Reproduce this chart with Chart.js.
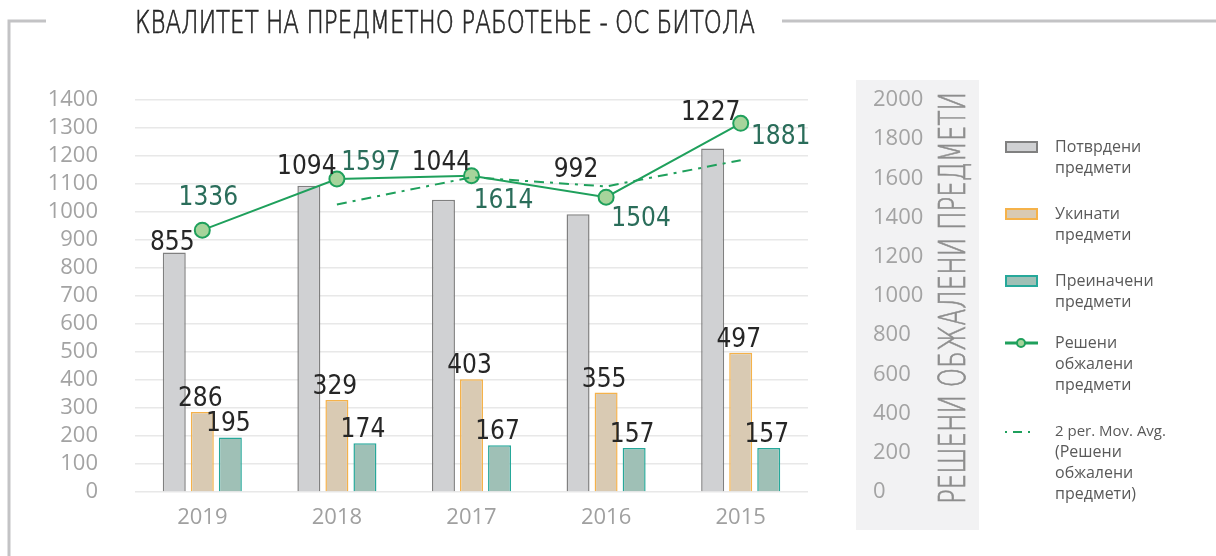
<!DOCTYPE html>
<html>
<head>
<meta charset="utf-8">
<script src="https://cdn.jsdelivr.net/npm/chart.js@4.4.1/dist/chart.umd.min.js"></script>
<style>
  html, body { margin: 0; padding: 0; background: #fff; }
  #wrap { width: 1216px; height: 556px; }
</style>
</head>
<body>
<div id="wrap"><canvas id="qualityChart" width="1216" height="556"></canvas></div>
<script>
// податоци од графиконот
const years = ['2019', '2018', '2017', '2016', '2015'];
const confirmed = [855, 1094, 1044, 992, 1227];
const abolished = [286, 329, 403, 355, 497];
const modified = [195, 174, 167, 157, 157];
const resolvedAppeals = [1336, 1597, 1614, 1504, 1881];
const movingAvg = [null, 1467, 1606, 1559, 1693];

const leftTicks = { min: 0, max: 1400, step: 100 };
const rightTicks = { min: 0, max: 2000, step: 200 };

const titleText = 'КВАЛИТЕТ НА ПРЕДМЕТНО РАБОТЕЊЕ - ОС БИТОЛА';
const rightAxisTitle = 'РЕШЕНИ ОБЖАЛЕНИ ПРЕДМЕТИ';

const narrowFont = '"Liberation Sans Narrow", "DejaVu Sans Condensed", sans-serif';
const GREEN = '#1fa05c';

// draw text squeezed/stretched to a given width (with a thin stroke to add weight)
function fitText(ctx, text, x, y, width, stroke) {
    const w = ctx.measureText(text).width;
    ctx.save();
    ctx.translate(x, y);
    ctx.scale(width / w, 1);
    ctx.fillText(text, 0, 0);
    if (stroke) {
        ctx.strokeStyle = ctx.fillStyle;
        ctx.lineWidth = stroke;
        ctx.strokeText(text, 0, 0);
    }
    ctx.restore();
}

// frame, title and grey panel behind the right axis
const backdrop = {
    id: 'backdrop',
    beforeDraw(chart) {
        const ctx = chart.ctx;
        ctx.save();
        ctx.fillStyle = '#f2f2f3';
        ctx.fillRect(856, 80, 123, 450);

        ctx.strokeStyle = '#c3c3c5';
        ctx.lineWidth = 3;
        ctx.beginPath();
        ctx.moveTo(9, 556);
        ctx.lineTo(9, 21);
        ctx.lineTo(46, 21);
        ctx.moveTo(782, 21);
        ctx.lineTo(1216, 21);
        ctx.stroke();

        ctx.fillStyle = '#262626';
        ctx.font = '200 32px "DejaVu Sans", sans-serif';
        ctx.textBaseline = 'alphabetic';
        ctx.textAlign = 'left';
        fitText(ctx, titleText, 135, 33, 620, 0.7);

        ctx.fillStyle = '#8e8e8e';
        ctx.font = '200 37px "DejaVu Sans", sans-serif';
        ctx.save();
        ctx.translate(965, 504);
        ctx.rotate(-Math.PI / 2);
        fitText(ctx, rightAxisTitle, 0, 0, 412, 0.7);
        ctx.restore();
        ctx.restore();
    }
};

// value labels above bars and next to the line points
const grayLift = [3, 12, 30, 37, 28];
const lineLabelOffsets = [[6, -25], [34, -9], [32, 32], [35, 29], [40, 21]];

const valueLabels = {
    id: 'valueLabels',
    afterDatasetsDraw(chart) {
        const ctx = chart.ctx;
        ctx.save();
        ctx.font = '26px ' + narrowFont;
        ctx.textAlign = 'center';
        ctx.textBaseline = 'alphabetic';
        ctx.fillStyle = '#262626';
        [0, 1, 2].forEach(i => {
            const values = chart.data.datasets[i].data;
            chart.getDatasetMeta(i).data.forEach((bar, j) => {
                const lift = i === 0 ? grayLift[j] : 6;
                ctx.fillText(values[j], bar.x - 2, bar.y - lift);
            });
        });
        ctx.fillStyle = '#2a6d5a';
        const lineValues = chart.data.datasets[3].data;
        chart.getDatasetMeta(3).data.forEach((pt, j) => {
            const [dx, dy] = lineLabelOffsets[j];
            ctx.fillText(lineValues[j], pt.x + dx, pt.y + dy);
        });
        ctx.restore();
    }
};

// legend on the right
const sideLegend = {
    id: 'sideLegend',
    afterDraw(chart) {
        const ctx = chart.ctx;
        const ds = chart.data.datasets;
        const items = [
            { y: 147, kind: 'box', ds: ds[0], lines: ['Потврдени', 'предмети'] },
            { y: 214, kind: 'box', ds: ds[1], lines: ['Укинати', 'предмети'] },
            { y: 281, kind: 'box', ds: ds[2], lines: ['Преиначени', 'предмети'] },
            { y: 343, kind: 'line', ds: ds[3], lines: ['Решени', 'обжалени', 'предмети'] },
            { y: 432, kind: 'dash', ds: ds[4], lines: ['2 per. Mov. Avg.', '(Решени', 'обжалени', 'предмети)'] }
        ];
        ctx.save();
        items.forEach(it => {
            if (it.kind === 'box') {
                ctx.fillStyle = it.ds.backgroundColor;
                ctx.strokeStyle = it.ds.borderColor;
                ctx.lineWidth = 2;
                ctx.fillRect(1006, it.y - 5, 31, 10);
                ctx.strokeRect(1006, it.y - 5, 31, 10);
            } else if (it.kind === 'line') {
                ctx.strokeStyle = it.ds.borderColor;
                ctx.lineWidth = 3;
                ctx.beginPath();
                ctx.moveTo(1005, it.y);
                ctx.lineTo(1038, it.y);
                ctx.stroke();
                ctx.beginPath();
                ctx.arc(1021, it.y, 4, 0, Math.PI * 2);
                ctx.fillStyle = it.ds.pointBackgroundColor;
                ctx.fill();
                ctx.lineWidth = 2;
                ctx.stroke();
            } else {
                ctx.strokeStyle = it.ds.borderColor;
                ctx.lineWidth = 2;
                ctx.setLineDash([2, 6, 9, 6]);
                ctx.beginPath();
                ctx.moveTo(1005, it.y);
                ctx.lineTo(1033, it.y);
                ctx.stroke();
                ctx.setLineDash([]);
            }
            ctx.fillStyle = '#595959';
            ctx.textAlign = 'left';
            ctx.textBaseline = 'middle';
            it.lines.forEach((t, k) => {
                ctx.font = (it.kind === 'dash' && k === 0 ? '15px' : '16px') + ' "Open Sans", sans-serif';
                ctx.fillText(t, 1055, it.y + k * (it.kind === 'dash' ? 20.7 : 21));
            });
        });
        ctx.restore();
    }
};

const tickFont = { family: '"Open Sans", sans-serif', size: 22 };
const NONE = 'rgba(0,0,0,0)';

const ctx = document.getElementById('qualityChart').getContext('2d');

new Chart(ctx, {
    type: 'bar',
    data: {
        labels: years,
        datasets: [
            {
                label: 'Потврдени предмети',
                data: confirmed,
                backgroundColor: '#d0d1d3',
                borderColor: '#808080',
                borderWidth: 1.5,
                yAxisID: 'y',
                order: 2
            },
            {
                label: 'Укинати предмети',
                data: abolished,
                backgroundColor: '#d9cab3',
                borderColor: '#f5b24a',
                borderWidth: 1.5,
                yAxisID: 'y',
                order: 2
            },
            {
                label: 'Преиначени предмети',
                data: modified,
                backgroundColor: '#9fc0b6',
                borderColor: '#26a89a',
                borderWidth: 1.5,
                yAxisID: 'y',
                order: 2
            },
            {
                type: 'line',
                label: 'Решени обжалени предмети',
                data: resolvedAppeals,
                borderColor: GREEN,
                borderWidth: 2,
                pointRadius: 7.5,
                pointBackgroundColor: '#a6d49b',
                pointBorderColor: GREEN,
                pointBorderWidth: 2,
                tension: 0,
                yAxisID: 'y1',
                order: 1
            },
            {
                type: 'line',
                label: '2 per. Mov. Avg. (Решени обжалени предмети)',
                data: movingAvg,
                borderColor: GREEN,
                borderWidth: 2,
                borderDash: [10, 6, 3, 6],
                pointRadius: 0,
                tension: 0,
                yAxisID: 'y1',
                order: 0
            }
        ]
    },
    options: {
        responsive: false,
        animation: false,
        layout: { padding: { top: 100, left: 0, right: 0, bottom: 0 } },
        datasets: {
            bar: { categoryPercentage: 0.625, barPercentage: 0.82 }
        },
        scales: {
            x: {
                grid: { display: false, drawTicks: false },
                border: { display: false },
                ticks: { color: '#a0a0a0', font: tickFont, padding: 13 },
                afterFit(scale) { scale.height = 64; }
            },
            y: {
                position: 'left',
                min: leftTicks.min,
                max: leftTicks.max,
                ticks: {
                    stepSize: leftTicks.step,
                    autoSkip: false,
                    callback: v => String(v),
                    color: '#a3a3a3',
                    font: tickFont,
                    padding: 0
                },
                // invisible tick marks push the labels away from the plot
                grid: { color: '#e8e8e8', lineWidth: 1.5, drawTicks: true, tickLength: 37, tickColor: NONE },
                border: { display: false },
                afterFit(scale) { scale.width = 135; }
            },
            y1: {
                position: 'right',
                min: rightTicks.min,
                max: rightTicks.max,
                ticks: {
                    stepSize: rightTicks.step,
                    autoSkip: false,
                    callback: v => String(v),
                    color: '#a3a3a3',
                    font: tickFont,
                    padding: 0
                },
                grid: { drawOnChartArea: false, drawTicks: true, tickLength: 65, tickColor: NONE },
                border: { display: false },
                afterFit(scale) { scale.width = 408; }
            }
        },
        plugins: {
            legend: { display: false },
            tooltip: { enabled: false },
            title: { display: false }
        }
    },
    plugins: [backdrop, valueLabels, sideLegend]
});
</script>
</body>
</html>
